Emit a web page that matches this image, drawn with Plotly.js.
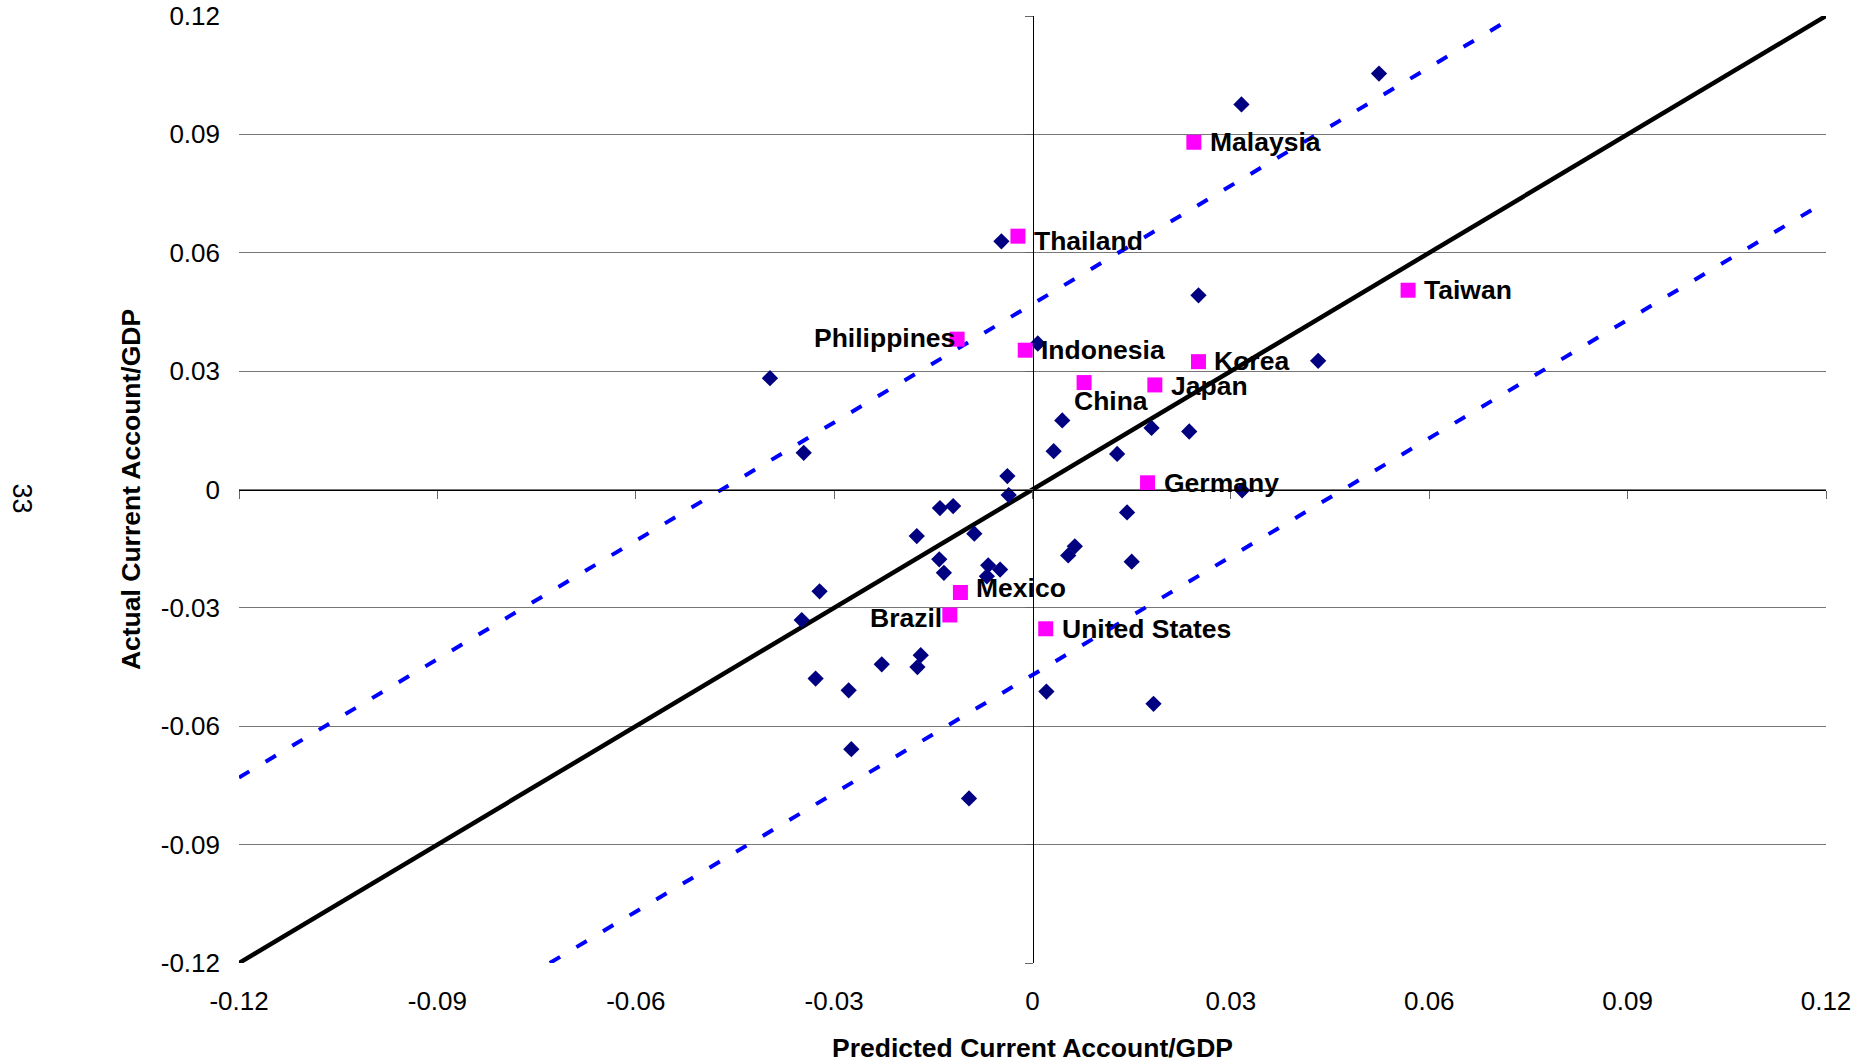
<!DOCTYPE html>
<html>
<head>
<meta charset="utf-8">
<script src="https://cdn.plot.ly/plotly-3.0.1.min.js"></script>
<style>
html,body{margin:0;padding:0;background:#ffffff;}
#chart{width:1874px;height:1064px;}
</style>
</head>
<body>
<div id="chart"></div>
<script>
// ---------- data ----------
const tickVals = [-0.12, -0.09, -0.06, -0.03, 0, 0.03, 0.06, 0.09, 0.12];
const tickLabels = ["-0.12", "-0.09", "-0.06", "-0.03", "0", "0.03", "0.06", "0.09", "0.12"];

// all other countries (navy diamonds): predicted vs actual current account / GDP
const otherX = [0.0524, 0.0316, -0.0047, 0.0251, 0.0008, 0.0432, -0.0397, -0.0346, 0.0045, 0.0180,
                0.0237, 0.0032, 0.0128, -0.0038, 0.0317, -0.0036, -0.0140, -0.0120, 0.0143, -0.0175,
                -0.0088, 0.0064, 0.0054, 0.0150, -0.0141, -0.0134, -0.0067, -0.0049, -0.0069, -0.0322,
                -0.0349, -0.0169, -0.0174, -0.0228, -0.0328, -0.0278, 0.0021, 0.0183, -0.0274, -0.0096];
const otherY = [0.1054, 0.0976, 0.0629, 0.0492, 0.0370, 0.0326, 0.0282, 0.0093, 0.0175, 0.0156,
                0.0147, 0.0097, 0.0090, 0.0034, -0.0002, -0.0014, -0.0047, -0.0042, -0.0058, -0.0118,
                -0.0112, -0.0144, -0.0167, -0.0183, -0.0177, -0.0211, -0.0192, -0.0203, -0.0220, -0.0258,
                -0.0331, -0.0420, -0.0450, -0.0443, -0.0479, -0.0509, -0.0512, -0.0543, -0.0658, -0.0783];

// highlighted countries (magenta squares)
const countryNames = ["Malaysia", "Thailand", "Philippines", "Indonesia", "Korea", "China",
                      "Japan", "Germany", "Taiwan", "Mexico", "Brazil", "United States"];
const countryX = [0.0244, -0.0022, -0.0114, -0.0011, 0.0251, 0.0078,
                  0.0185, 0.0174, 0.0568, -0.0109, -0.0125, 0.0020];
const countryY = [0.0880, 0.0642, 0.0381, 0.0353, 0.0324, 0.0271,
                  0.0265, 0.0017, 0.0505, -0.0261, -0.0318, -0.0353];

// 45-degree line and the two dashed band lines (end points)
const fitX = [-0.12, 0.12];
const fitY = [-0.12, 0.12];
const upperX = [-0.12, 0.073];
const upperY = [-0.073, 0.12];
const lowerX = [-0.073, 0.12];
const lowerY = [-0.12, 0.073];

// ---------- styles ----------
const FONT = "Liberation Sans, Arial, sans-serif";
const labelStyle = {
  "Philippines": {xanchor: "right", xshift: -1, yshift: 1},
  "China": {xanchor: "left", xshift: -11, yshift: -18},
  "Thailand": {xanchor: "left", xshift: 15, yshift: -5},
  "Mexico": {xanchor: "left", xshift: 15, yshift: 4},
  "Brazil": {xanchor: "right", xshift: -7, yshift: -3},
  "Korea": {xanchor: "left", xshift: 15, yshift: 1},
  "Japan": {xanchor: "left", xshift: 15, yshift: -1}
};
const defaultLabel = {xanchor: "left", xshift: 15, yshift: 0};

const traces = [
  {x: fitX, y: fitY, type: "scatter", mode: "lines", xaxis: "x", yaxis: "y",
   line: {color: "#000000", width: 4.5}, hoverinfo: "skip", showlegend: false},
  {x: upperX, y: upperY, type: "scatter", mode: "lines", xaxis: "x", yaxis: "y",
   line: {color: "#0000FF", width: 4, dash: "12px,19px"}, hoverinfo: "skip", showlegend: false},
  {x: lowerX, y: lowerY, type: "scatter", mode: "lines", xaxis: "x", yaxis: "y",
   line: {color: "#0000FF", width: 4, dash: "12px,19px"}, hoverinfo: "skip", showlegend: false},
  {x: otherX, y: otherY, type: "scatter", mode: "markers", xaxis: "x2", yaxis: "y2",
   marker: {symbol: "diamond", size: 12.5, color: "#000080", line: {width: 0}}, showlegend: false},
  {x: countryX, y: countryY, type: "scatter", mode: "markers", xaxis: "x2", yaxis: "y2",
   text: countryNames, marker: {symbol: "square", size: 15, color: "#FF00FF", line: {width: 0}}, showlegend: false}
];

const annotations = countryNames.map((name, i) => {
  const s = labelStyle[name] || defaultLabel;
  return {
    x: countryX[i], y: countryY[i], xref: "x", yref: "y",
    text: name, showarrow: false,
    xanchor: s.xanchor, yanchor: "middle", xshift: s.xshift, yshift: s.yshift,
    borderpad: 0,
    font: {family: FONT, size: 26.5, color: "#000000", weight: "bold"}
  };
});
annotations.push({
  text: "33", xref: "paper", yref: "paper", x: -0.137, y: 0.491,
  showarrow: false, textangle: 90, xanchor: "center", yanchor: "middle",
  font: {family: FONT, size: 27, color: "#000000"}
});

const layout = {
  width: 1874, height: 1064, autosize: false,
  margin: {l: 239, r: 48, t: 16, b: 101, pad: 0},
  paper_bgcolor: "#ffffff", plot_bgcolor: "#ffffff",
  showlegend: false,
  font: {family: FONT, color: "#000000"},
  xaxis: {
    range: [-0.12, 0.12], tickmode: "array", tickvals: tickVals, ticktext: tickLabels,
    showgrid: false, zeroline: false, showline: false, ticks: "",
    ticklabelstandoff: 20,
    tickfont: {family: FONT, size: 26, color: "#000000"},
    title: {text: "Predicted Current Account/GDP", standoff: 23,
            font: {family: FONT, size: 26.5, color: "#000000", weight: "bold"}}
  },
  yaxis: {
    range: [-0.12, 0.12], tickmode: "array", tickvals: tickVals, ticktext: tickLabels,
    showgrid: true, gridcolor: "#777777", gridwidth: 1,
    zeroline: false, showline: false, ticks: "",
    ticklabelstandoff: 18,
    tickfont: {family: FONT, size: 26, color: "#000000"},
    title: {text: "Actual Current Account/GDP", standoff: 12,
            font: {family: FONT, size: 26.5, color: "#000000", weight: "bold"}}
  },
  xaxis2: {
    range: [-0.12, 0.12], overlaying: "x", anchor: "free", position: 0.5, side: "bottom",
    tickmode: "array", tickvals: tickVals, showticklabels: false,
    showgrid: false, zeroline: false, showline: true, linecolor: "#000000", linewidth: 1,
    ticks: "outside", ticklen: 8, tickwidth: 1, tickcolor: "#666666"
  },
  yaxis2: {
    range: [-0.12, 0.12], overlaying: "y", anchor: "free", position: 0.5, side: "left",
    tickmode: "array", tickvals: tickVals, showticklabels: false,
    showgrid: false, zeroline: false, showline: true, linecolor: "#000000", linewidth: 1,
    ticks: "outside", ticklen: 8, tickwidth: 1, tickcolor: "#666666"
  },
  annotations: annotations
};

Plotly.newPlot("chart", traces, layout, {staticPlot: true, displayModeBar: false});
</script>
</body>
</html>
